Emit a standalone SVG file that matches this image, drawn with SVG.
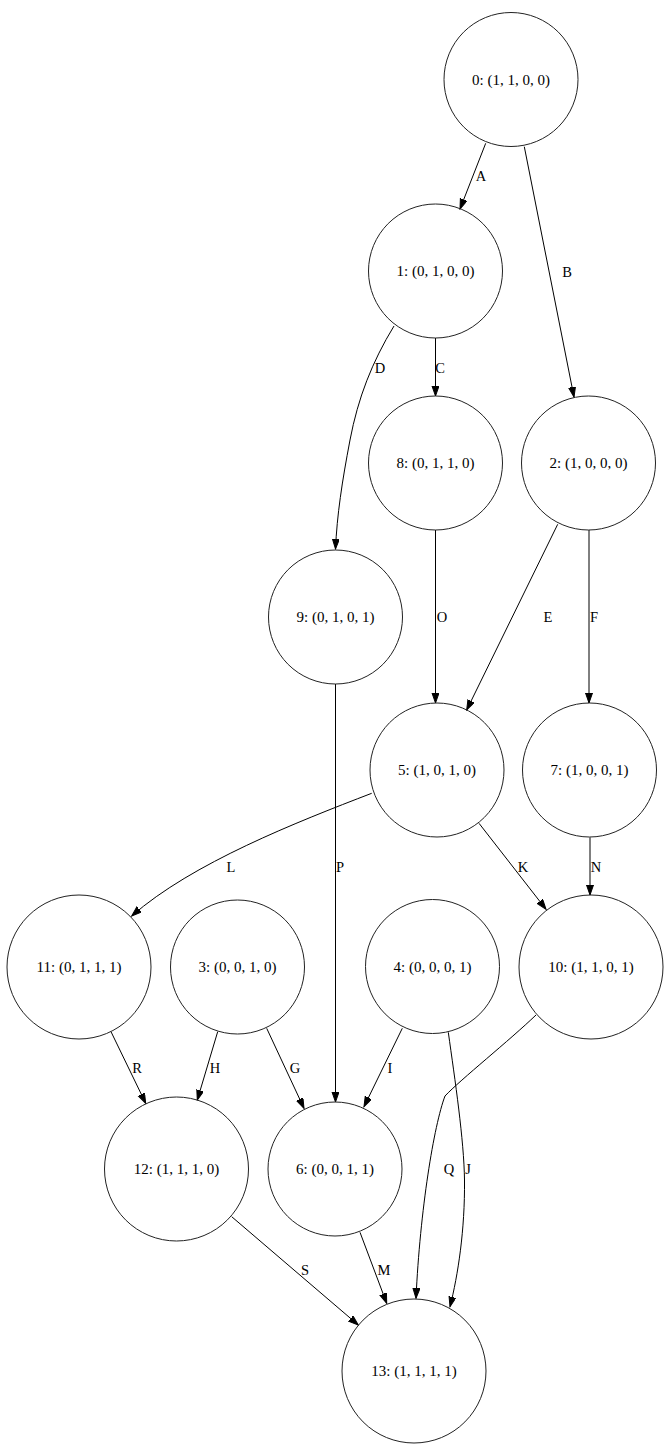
<svg xmlns="http://www.w3.org/2000/svg" width="672" height="1450" viewBox="0 0 672 1450">
<style>
.node circle{fill:none;stroke:#222;stroke-width:1}
.node text{font-family:"Liberation Serif","Times New Roman",serif;font-size:15px;text-anchor:middle;fill:#000}
.edges path{fill:none;stroke:#000;stroke-width:1;marker-end:url(#arr)}
.edges text{font-family:"Liberation Serif","Times New Roman",serif;font-size:14.5px;text-anchor:middle;fill:#000}
</style>
<defs>
<marker id="arr" markerUnits="userSpaceOnUse" markerWidth="11" markerHeight="8" refX="10" refY="3.5" orient="auto">
<path d="M0,0 L10,3.5 L0,7 z" fill="#000" stroke="#000" stroke-width="1"/>
</marker>
</defs>
<rect width="672" height="1450" fill="#fff"/>
<g id="edges" class="edges">
<path d="M485.7,143.3 L460,209"/>
<text x="481" y="181">A</text>
<path d="M524.3,146.7 L574,397"/>
<text x="567" y="277">B</text>
<path d="M435.5,338 L435.5,396"/>
<text x="440" y="373">C</text>
<path d="M394,326 C372,362 358,398 350,440 C342,482 337,515 335.5,549"/>
<text x="380" y="373">D</text>
<path d="M557.7,524.3 L466.7,710"/>
<text x="548" y="622">E</text>
<path d="M589,530 L589,703"/>
<text x="594" y="622">F</text>
<path d="M435.5,530 L435.5,703"/>
<text x="442" y="622">O</text>
<path d="M335.5,684 L335.5,1102"/>
<text x="340" y="872">P</text>
<path d="M371.7,793.3 C297,822 192,863 131.7,916"/>
<text x="231" y="872">L</text>
<path d="M479,823.3 L546,909.3"/>
<text x="523" y="872">K</text>
<path d="M590,837.3 L590,895"/>
<text x="596" y="872">N</text>
<path d="M111,1031.7 L145.7,1103.3"/>
<text x="137" y="1073">R</text>
<path d="M217.7,1031.7 L197.3,1100"/>
<text x="215" y="1073">H</text>
<path d="M266.7,1028.3 L304,1108.3"/>
<text x="295" y="1073">G</text>
<path d="M402.3,1028.3 L364,1106.7"/>
<text x="390" y="1073">I</text>
<path d="M448.3,1032.3 C455,1080 464,1140 464.5,1180 C465,1230 458,1275 450,1306.7"/>
<text x="468" y="1174">J</text>
<path d="M536,1015 C510,1040 460,1080 445,1096 C434,1125 420,1210 416,1298.3"/>
<text x="449" y="1174">Q</text>
<path d="M360,1232.3 L386.7,1303.3"/>
<text x="384" y="1275">M</text>
<path d="M231.7,1216.7 L358.3,1325"/>
<text x="305" y="1275">S</text>
</g>
<g id="n0" class="node"><circle cx="511" cy="79.5" r="67"/><text x="511" y="84.5">0: (1, 1, 0, 0)</text></g>
<g id="n1" class="node"><circle cx="435.5" cy="271" r="67"/><text x="435.5" y="276">1: (0, 1, 0, 0)</text></g>
<g id="n8" class="node"><circle cx="435.5" cy="463" r="67"/><text x="435.5" y="468">8: (0, 1, 1, 0)</text></g>
<g id="n2" class="node"><circle cx="588.5" cy="463" r="67"/><text x="588.5" y="468">2: (1, 0, 0, 0)</text></g>
<g id="n9" class="node"><circle cx="335.5" cy="617" r="67"/><text x="335.5" y="622">9: (0, 1, 0, 1)</text></g>
<g id="n5" class="node"><circle cx="437" cy="770" r="67"/><text x="437" y="775">5: (1, 0, 1, 0)</text></g>
<g id="n7" class="node"><circle cx="589.5" cy="770" r="67"/><text x="589.5" y="775">7: (1, 0, 0, 1)</text></g>
<g id="n11" class="node"><circle cx="79" cy="967" r="72"/><text x="79" y="972">11: (0, 1, 1, 1)</text></g>
<g id="n3" class="node"><circle cx="237.5" cy="967" r="67"/><text x="237.5" y="972">3: (0, 0, 1, 0)</text></g>
<g id="n4" class="node"><circle cx="432.5" cy="966.5" r="67"/><text x="432.5" y="971.5">4: (0, 0, 0, 1)</text></g>
<g id="n10" class="node"><circle cx="591" cy="967" r="72"/><text x="591" y="972">10: (1, 1, 0, 1)</text></g>
<g id="n12" class="node"><circle cx="176.5" cy="1169" r="72"/><text x="176.5" y="1174">12: (1, 1, 1, 0)</text></g>
<g id="n6" class="node"><circle cx="335" cy="1169" r="67"/><text x="335" y="1174">6: (0, 0, 1, 1)</text></g>
<g id="n13" class="node"><circle cx="414" cy="1371" r="72"/><text x="414" y="1376">13: (1, 1, 1, 1)</text></g>
</svg>
